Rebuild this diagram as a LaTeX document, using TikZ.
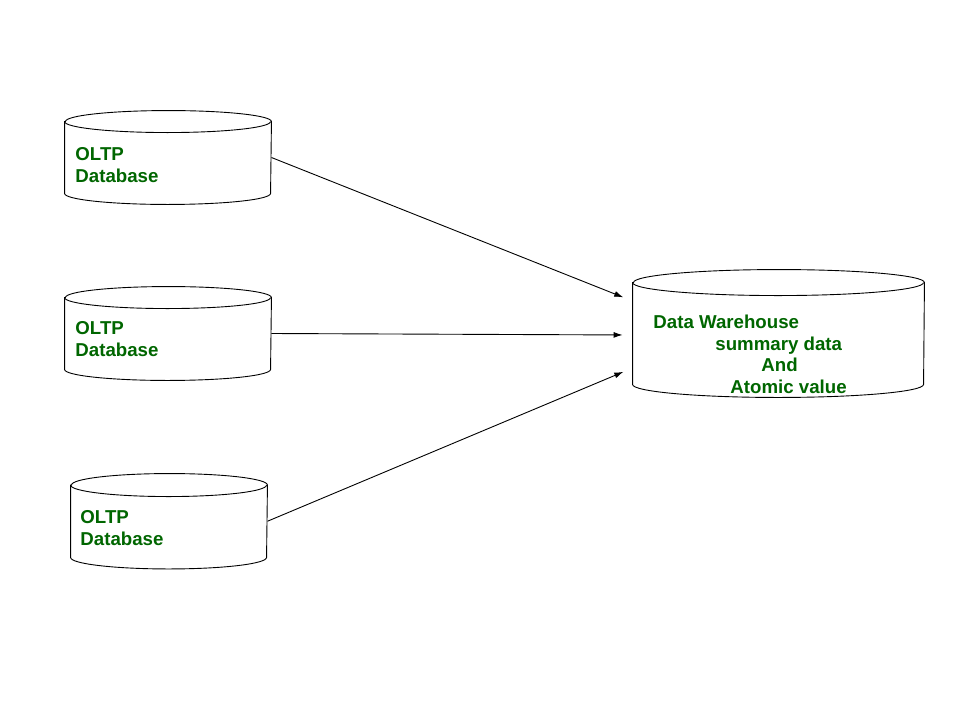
\documentclass[tikz,border=0pt]{standalone}
\usepackage{fontspec}
\setmainfont{Liberation Sans}
\usetikzlibrary{arrows.meta}
\definecolor{dbgreen}{RGB}{0,102,0}

% cylinder drawn round a named body node: name, x radius, y radius of the ends
\newcommand{\drawdb}[3]{%
	\draw[fill=white] (#1.north west) -- (#1.south west)
		arc[start angle=180, end angle=360, x radius=#2, y radius=#3]
		-- (#1.north east)
		arc[start angle=0, end angle=180, x radius=#2, y radius=#3] -- cycle;
	\draw (#1.north west) arc[start angle=180, end angle=360, x radius=#2, y radius=#3];
}

\begin{document}
\begin{tikzpicture}[x=1pt, y=-1pt, line width=0.9pt, >={Latex[length=9pt,width=6pt]}]
	\tikzstyle{body} = [rectangle, draw=none, inner sep=0pt]
	\tikzstyle{dblabel} = [align=left, inner sep=0pt, text=dbgreen, font=\bfseries\fontsize{18.67}{21.5}\selectfont]
	\useasboundingbox[fill=white] (0,0) rectangle (960,720);
	\node[body, minimum width=206pt, minimum height=71pt] (oltp_a) at (168,157.5) {};
	\node[body, minimum width=206pt, minimum height=71pt] (oltp_b) at (168,333.5) {};
	\node[body, minimum width=196pt, minimum height=71.5pt] (oltp_c) at (169,521.25) {};
	\node[body, minimum width=291pt, minimum height=101pt] (dw) at (778.5,333.5) {};
	\drawdb{oltp_a}{103pt}{11pt}
	\drawdb{oltp_b}{103pt}{11pt}
	\drawdb{oltp_c}{98pt}{11.5pt}
	\drawdb{dw}{145.5pt}{13pt}
	
	%labels inside the cylinders
	\node[dblabel, anchor=base west] (oltp_a_txt) at (75,182) {OLTP\\Database};
	\node[dblabel, anchor=base west] (oltp_b_txt) at (75,356) {OLTP\\Database};
	\node[dblabel, anchor=base west] (oltp_c_txt) at (80,545) {OLTP\\Database};
	\node[dblabel, anchor=base west] (dw_txt) at (653,393) {Data Warehouse\\\hspace*{62pt}summary data\\\hspace*{108pt}And\\\hspace*{77pt}Atomic value};
	\draw[shorten >=10pt]
	(oltp_a.east) edge[->] ([yshift=32.5pt]dw.west)
	(oltp_b.east) edge[->] ([yshift=-1.5pt]dw.west)
	(oltp_c.east) edge[->] ([yshift=-34.5pt]dw.west)
	;
\end{tikzpicture}
\end{document}
